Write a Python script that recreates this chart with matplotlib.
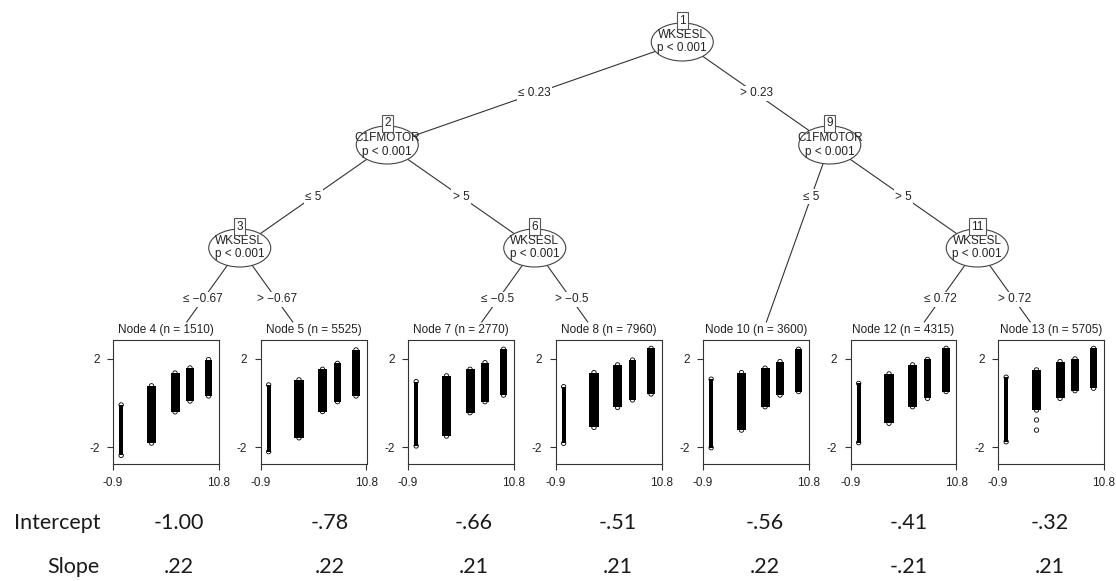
import matplotlib
matplotlib.use("Agg")
import matplotlib.pyplot as plt
from matplotlib.patches import Ellipse

plt.rcParams['font.family'] = ['Liberation Sans', 'DejaVu Sans']

# tree structure (partykit-style lmtree)
children = {1: (2, 9), 2: (3, 6), 3: (4, 5), 6: (7, 8), 9: (10, 11), 11: (12, 13)}
split_var = {1: "WKSESL", 2: "C1FMOTOR", 3: "WKSESL", 6: "WKSESL", 9: "C1FMOTOR", 11: "WKSESL"}
split_p = {1: "p < 0.001", 2: "p < 0.001", 3: "p < 0.001", 6: "p < 0.001", 9: "p < 0.001", 11: "p < 0.001"}
edge_labels = {(1, 2): "\u2264 0.23", (1, 9): "> 0.23",
               (2, 3): "\u2264 5", (2, 6): "> 5",
               (3, 4): "\u2264 \u22120.67", (3, 5): "> \u22120.67",
               (6, 7): "\u2264 \u22120.5", (6, 8): "> \u22120.5",
               (9, 10): "\u2264 5", (9, 11): "> 5",
               (11, 12): "\u2264 0.72", (11, 13): "> 0.72"}

terminals = [4, 5, 7, 8, 10, 12, 13]
terminal_n = [1510, 5525, 2770, 7960, 3600, 4315, 5705]

# scatter columns in each terminal node (time points on x, score range on y)
times = [0, 3.35, 5.95, 7.6, 9.65]
col_top = [[-0.09, 0.78, 1.36, 1.59, 1.97],
           [0.82, 1.05, 1.53, 1.80, 2.41],
           [0.97, 1.23, 1.53, 1.83, 2.44],
           [0.74, 1.38, 1.73, 1.95, 2.48],
           [1.08, 1.38, 1.58, 1.88, 2.44],
           [0.89, 1.32, 1.73, 1.98, 2.48],
           [1.17, 1.50, 1.88, 2.00, 2.48]]
col_bottom = [[-2.38, -1.82, -0.40, 0.09, 0.32],
              [-2.21, -1.58, -0.39, 0.06, 0.32],
              [-1.95, -1.50, -0.44, 0.06, 0.36],
              [-1.83, -1.11, -0.20, 0.14, 0.41],
              [-2.03, -1.23, -0.17, 0.36, 0.52],
              [-1.80, -0.92, -0.17, 0.21, 0.52],
              [-1.76, -0.32, 0.21, 0.56, 0.67]]
outlier_y = [[], [], [], [], [], [], [-0.77, -1.23]]   # stray points in 2nd column

intercepts = ["-1.00", "-.78", "-.66", "-.51", "-.56", "-.41", "-.32"]
slopes = [".22", ".22", ".21", ".21", ".22", "-.21", ".21"]

W, H = 1116, 581
fig = plt.figure(figsize=(W / 100, H / 100), dpi=100)
ax0 = fig.add_axes([0, 0, 1, 1])
ax0.set_xlim(0, W)
ax0.set_ylim(H, 0)
ax0.axis('off')

LINE = '#333333'
TXT = '#222222'
FS = 8.5

# layout
def leaves(n):
    return [n] if n not in children else leaves(children[n][0]) + leaves(children[n][1])

pos = {}
for i, t in enumerate(terminals):
    pos[t] = (166 + 147.5 * i, 351)

def place(n, depth):
    if n not in children:
        return
    l, r = children[n]
    place(l, depth + 1)
    place(r, depth + 1)
    xl = pos[leaves(l)[-1]][0]
    xr = pos[leaves(r)[0]][0]
    pos[n] = ((xl + xr) / 2, 42 + 103 * depth)

place(1, 0)

# edges + labels
for (p, c), lab in edge_labels.items():
    px, py = pos[p]
    cx, cy = pos[c]
    ex, ey = cx, cy
    if c not in children:       # stop at terminal panel top
        ey = 322
        ex = px + (cx - px) * (ey - py) / (cy - py)
    ax0.plot([px, ex], [py, ey], color=LINE, lw=0.8, zorder=1)
    ly = py + 51.5
    lx = px + (cx - px) * (ly - py) / (cy - py)
    ax0.text(lx, ly, lab, ha='center', va='center', fontsize=FS, color=TXT, zorder=2,
             bbox=dict(boxstyle='square,pad=0.1', fc='white', ec='none'))

# inner nodes
for n in children:
    x, y = pos[n]
    ax0.add_patch(Ellipse((x, y), 62, 38, fc='white', ec='#444444', lw=0.8, zorder=3))
    ax0.text(x, y - 7, split_var[n], ha='center', va='center', fontsize=FS, color=TXT, zorder=4)
    ax0.text(x, y + 6.5, split_p[n], ha='center', va='center', fontsize=FS, color=TXT, zorder=4)
    ax0.text(x, y - 21.5, str(n), ha='center', va='center', fontsize=FS, color=TXT, zorder=5,
             bbox=dict(boxstyle='square,pad=0.18', fc='white', ec='#555555', lw=0.8))

# terminal nodes
for i, t in enumerate(terminals):
    cx = pos[t][0]
    ax0.text(cx, 330, "Node %d (n = %d)" % (t, terminal_n[i]), ha='center', va='center',
             fontsize=FS, color=TXT)
    ax = fig.add_axes([(cx - 53) / W, 1 - 464 / H, 106 / W, 124 / H])
    tops = col_top[i]
    bots = col_bottom[i]
    ax.bar(times, [a - b for a, b in zip(tops, bots)], bottom=bots,
           width=[0.45, 1.0, 1.0, 0.8, 0.8], color='black', zorder=2)
    ax.scatter(times + times, tops + bots, s=10, facecolors='none', edgecolors='black',
               linewidths=0.6, zorder=3)
    if outlier_y[i]:
        ax.scatter([times[1]] * len(outlier_y[i]), outlier_y[i], s=10, facecolors='none',
                   edgecolors='black', linewidths=0.6, zorder=3)
    ax.set_xlim(-0.9, 10.8)
    ax.set_ylim(-2.77, 2.86)
    ax.set_xticks([-0.9, 10.8])
    ax.set_xticklabels(['-0.9', '10.8'])
    ax.set_yticks([-2, 2])
    ax.set_yticklabels(['-2', '2'])
    ax.tick_params(length=4.5, width=0.8, labelsize=FS, colors=LINE, labelcolor=TXT, pad=5)
    for s in ax.spines.values():
        s.set_color(LINE)
        s.set_linewidth(0.8)

# coefficient table underneath
tab_x = [179, 330, 474, 618, 765, 909, 1050]
tfont = ['Lato', 'DejaVu Sans']
ax0.text(100, 523, "Intercept", ha='right', va='center', fontsize=15.5, family=tfont, color='#1a1a1a')
ax0.text(100, 567, "Slope", ha='right', va='center', fontsize=15.5, family=tfont, color='#1a1a1a')
for x, a, b in zip(tab_x, intercepts, slopes):
    ax0.text(x, 523, a, ha='center', va='center', fontsize=15.5, family=tfont, color='#1a1a1a')
    ax0.text(x, 567, b, ha='center', va='center', fontsize=15.5, family=tfont, color='#1a1a1a')

fig.savefig("out.png", dpi=100, facecolor='white')
